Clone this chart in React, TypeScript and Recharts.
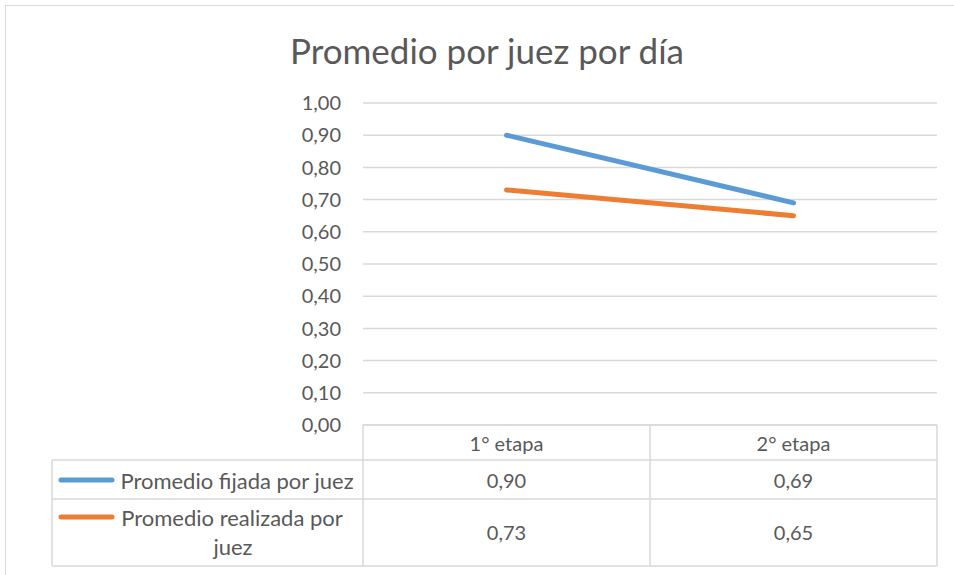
import React from "react";
import { LineChart, Line, XAxis, YAxis, CartesianGrid } from "recharts";

const categories = ["1° etapa", "2° etapa"];
const fijadaValues = [0.9, 0.69];
const realizadaValues = [0.73, 0.65];
const seriesNames = ["Promedio fijada por juez", "Promedio realizada por juez"];
const yTicks = [0, 0.1, 0.2, 0.3, 0.4, 0.5, 0.6, 0.7, 0.8, 0.9, 1.0];

const data = categories.map((c, i) => ({
  name: c,
  fijada: fijadaValues[i],
  realizada: realizadaValues[i],
}));

const W = 954;
const H = 575;
const PLOT_LEFT = 363;
const PLOT_RIGHT = 937;
const PLOT_TOP = 103;
const PLOT_BOTTOM = 425;
const FONT = "Lato, 'Noto Sans', sans-serif";
const TEXT = "#595959";
const GRID = "#d9d9d9";
const BLUE = "#5B9BD5";
const ORANGE = "#ED7D31";
const COL_W = (PLOT_RIGHT - PLOT_LEFT) / categories.length;

const fmt = (v: number) => v.toFixed(2).replace(".", ",");

function DataTable() {
  const n = categories.length;
  const colCenter = (i: number) => PLOT_LEFT + (i + 0.5) * COL_W;
  const headerBottom = 460;
  const row1Bottom = 499;
  const row2Bottom = 566;
  const tableLeft = 52;
  return (
    <svg
      width={W}
      height={H}
      style={{ position: "absolute", left: 0, top: 0, pointerEvents: "none" }}
    >
      {Array.from({ length: n + 1 }).map((_, i) => (
        <line
          key={"v" + i}
          x1={PLOT_LEFT + i * COL_W}
          x2={PLOT_LEFT + i * COL_W}
          y1={PLOT_BOTTOM}
          y2={row2Bottom}
          stroke={GRID}
          strokeWidth={1.5}
        />
      ))}
      <line x1={tableLeft} x2={tableLeft} y1={headerBottom} y2={row2Bottom} stroke={GRID} strokeWidth={1.5} />
      {[headerBottom, row1Bottom, row2Bottom].map((y) => (
        <line key={"h" + y} x1={tableLeft} x2={PLOT_RIGHT} y1={y} y2={y} stroke={GRID} strokeWidth={1.5} />
      ))}
      <line x1={61} x2={112} y1={480} y2={480} stroke={BLUE} strokeWidth={5} strokeLinecap="round" />
      <text x={237} y={480} textAnchor="middle" dominantBaseline="central" fill={TEXT} fontFamily={FONT} fontSize={22}>
        {seriesNames[0]}
      </text>
      {fijadaValues.map((v, i) => (
        <text key={"f" + i} x={colCenter(i)} y={480} textAnchor="middle" dominantBaseline="central" fill={TEXT} fontFamily={FONT} fontSize={20}>
          {fmt(v)}
        </text>
      ))}
      <line x1={61} x2={112} y1={517} y2={517} stroke={ORANGE} strokeWidth={5} strokeLinecap="round" />
      <text x={232} y={517} textAnchor="middle" dominantBaseline="central" fill={TEXT} fontFamily={FONT} fontSize={22}>
        Promedio realizada por
      </text>
      <text x={233} y={546} textAnchor="middle" dominantBaseline="central" fill={TEXT} fontFamily={FONT} fontSize={22}>
        juez
      </text>
      {realizadaValues.map((v, i) => (
        <text key={"r" + i} x={colCenter(i)} y={532} textAnchor="middle" dominantBaseline="central" fill={TEXT} fontFamily={FONT} fontSize={20}>
          {fmt(v)}
        </text>
      ))}
      <rect x={5.5} y={5.5} width={1000} height={1000} fill="none" stroke={GRID} strokeWidth={1} />
      <text x={487} y={50} textAnchor="middle" dominantBaseline="central" fill={TEXT} fontFamily={FONT} fontSize={35}>
        Promedio por juez por día
      </text>
    </svg>
  );
}

export default function App() {
  return (
    <div style={{ position: "absolute", left: 0, top: 0, width: W, height: H, background: "#fff", overflow: "hidden" }}>
      <LineChart
        width={W}
        height={H}
        data={data}
        margin={{ top: PLOT_TOP, right: W - PLOT_RIGHT, bottom: H - PLOT_BOTTOM - 35, left: 0 }}
      >
        <CartesianGrid horizontal vertical={false} stroke={GRID} strokeWidth={1.5} />
        <XAxis
          dataKey="name"
          height={35}
          padding={{ left: COL_W / 2, right: COL_W / 2 }}
          axisLine={{ stroke: GRID, strokeWidth: 1.5 }}
          tickLine={false}
          tickSize={0}
          tickMargin={12}
          tick={{ fill: TEXT, fontFamily: FONT, fontSize: 20 }}
        />
        <YAxis
          width={PLOT_LEFT}
          domain={[0, 1]}
          ticks={yTicks}
          tickFormatter={fmt}
          axisLine={false}
          tickLine={false}
          tickSize={0}
          tickMargin={22}
          tick={{ fill: TEXT, fontFamily: FONT, fontSize: 20 }}
          interval={0}
        />
        <Line dataKey="fijada" stroke={BLUE} strokeWidth={5} dot={false} strokeLinecap="round" isAnimationActive={false} />
        <Line dataKey="realizada" stroke={ORANGE} strokeWidth={5} dot={false} strokeLinecap="round" isAnimationActive={false} />
      </LineChart>
      <DataTable />
    </div>
  );
}
